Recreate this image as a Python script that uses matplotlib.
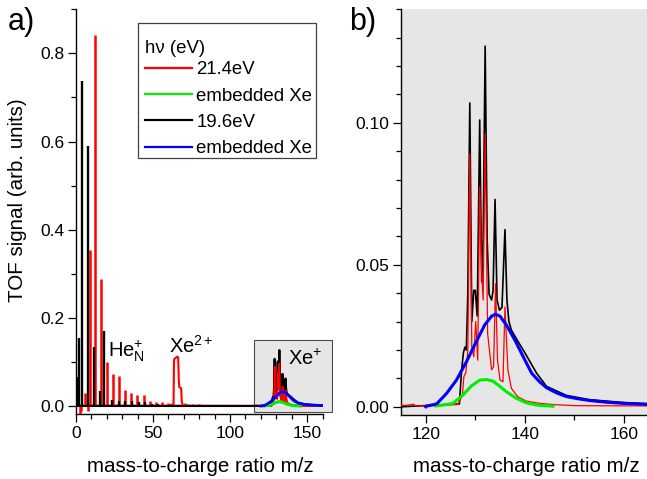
import matplotlib
matplotlib.use("Agg")
import matplotlib.pyplot as plt
from matplotlib.patches import Rectangle
from matplotlib.ticker import MultipleLocator, FormatStrFormatter

# He_N+ cluster region, peaks read off panel a)
black_peak_mz = [0.5, 1.7, 3.9, 7.7, 11.8, 15.6, 18.1, 23.4, 27.7, 32.0, 36.3, 40.6, 44.9, 49.0, 53.0]
black_peak_h = [0.065, 0.155, 0.737, 0.589, 0.134, 0.035, 0.171, 0.013, 0.012, 0.011, 0.011, 0.010, 0.009, 0.005, 0.004]

red_peak_mz = [5.6, 9.2, 12.0, 16.1, 20.0, 23.8, 27.9, 31.9, 35.8, 39.9, 43.9, 48.0, 52.0, 56.0, 60.0,
               70.5, 72.5, 76.0, 80.0, 84.5, 90.0]
red_peak_h = [0.030, 0.355, 0.842, 0.289, 0.100, 0.072, 0.069, 0.036, 0.029, 0.025, 0.026, 0.011, 0.010, 0.010, 0.007,
              0.006, 0.005, 0.004, 0.004, 0.003, 0.002]
red_dip_mz = [2.6, 3.4, 8.0]
red_dip_h = [-0.018, -0.012, -0.011]

# Xe2+ group (21.4 eV only)
xe2_mz = [61.5, 63.3, 63.6, 64.2, 65.0, 65.8, 66.3, 66.7, 67.0, 68.3, 68.6, 69.3]
xe2_sig = [0.002, 0.004, 0.105, 0.108, 0.110, 0.112, 0.110, 0.060, 0.043, 0.040, 0.010, 0.002]

# Xe+ region, read off panel b)
black_mz = [0, 115, 126.8, 127.2, 127.6, 127.9, 128.2, 128.5, 128.9, 129.3, 129.7, 130.0, 130.4, 130.9, 131.3,
            131.6, 132.0, 132.4, 132.8, 133.3, 133.6, 134.0, 134.4, 134.9, 135.4, 136.0, 136.4, 136.8,
            137.3, 138.3, 140.3, 142.4, 144.4, 148.4, 153.1, 159.9, 165]
black_sig = [0.0, 0.0, 0.001, 0.012, 0.019, 0.021, 0.020, 0.040, 0.107, 0.030, 0.041, 0.041, 0.032, 0.101, 0.044,
             0.059, 0.127, 0.059, 0.0396, 0.0376, 0.041, 0.073, 0.0376, 0.034, 0.035, 0.0624, 0.0376, 0.030,
             0.027, 0.024, 0.0182, 0.0118, 0.0072, 0.0040, 0.0025, 0.0015, 0.0011]

red_mz = [0, 116, 117.5, 118, 120, 126.5, 127.4, 127.7, 128.1, 128.5, 128.9, 129.3, 129.7, 130.1, 130.5,
          130.9, 131.3, 131.6, 132.0, 132.5, 133.3, 133.7, 134.1, 134.5, 135.0, 135.6, 136.0, 136.6,
          137.3, 138.6, 140.3, 143.0, 146.4, 150, 165]
red_sig = [0.001, 0.0005, 0.0009, 0.0003, 0.0003, 0.0008, 0.004, 0.0106, 0.0120, 0.020, 0.089, 0.021, 0.0176,
           0.0300, 0.0164, 0.0775, 0.0469, 0.0376, 0.0963, 0.0258, 0.0130, 0.0141, 0.0434, 0.0164, 0.0094,
           0.0088, 0.0352, 0.0129, 0.0065, 0.0035, 0.0020, 0.0012, 0.0007, 0.0004, 0.0003]

blue_mz = [120, 120.1, 122.2, 124.2, 126.2, 128.2, 130.2, 131.9, 133.3, 134.1, 135.0, 136.3, 138.0, 139.7,
           141.4, 143.0, 144.4, 146.4, 148.4, 150.8, 153.1, 156.5, 159.9, 165]
blue_sig = [0.0, 0.0002, 0.001, 0.0047, 0.0094, 0.0158, 0.0229, 0.0288, 0.0319, 0.0326, 0.0319, 0.0288,
            0.0235, 0.0176, 0.0118, 0.0088, 0.0067, 0.0049, 0.0036, 0.0028, 0.0022, 0.0016, 0.0012, 0.0008]

green_mz = [122.0, 123.5, 125.5, 127.5, 129.2, 130.9, 132.3, 133.6, 134.9, 136.3, 138.3, 140.3, 142.4, 145.7]
green_sig = [0.0003, 0.0006, 0.0012, 0.0041, 0.0073, 0.0094, 0.0096, 0.009, 0.0073, 0.0053, 0.003,
             0.0014, 0.0006, 0.0002]

# grey box marking the zoomed Xe+ region in a)
inset_x = [115.6, 165.9]
inset_y = [-0.0137, 0.150]

RED, GREEN, BLUE, GREY = "#ff0000", "#00ee00", "#0000ff", "#e6e6e6"
W, H = 647, 479

plt.rcParams["font.family"] = ["Liberation Sans", "DejaVu Sans"]
plt.rcParams["mathtext.fontset"] = "custom"
plt.rcParams["mathtext.rm"] = "Liberation Sans"
plt.rcParams["mathtext.it"] = "Liberation Sans:italic"

fig = plt.figure(figsize=(W / 100, H / 100), dpi=100)
ax1 = fig.add_axes([0.1175, 0.1351, 0.381, 0.8455])
ax2 = fig.add_axes([0.6198, 0.1336, 0.3802, 0.847])

# ---- panel a)
ax1.add_patch(Rectangle((inset_x[0], inset_y[0]), inset_x[1] - inset_x[0], inset_y[1] - inset_y[0],
                        facecolor=GREY, edgecolor="#4d4d4d", lw=0.8, clip_on=False, zorder=0))
ax1.vlines(red_peak_mz, 0, red_peak_h, color=RED, lw=1.8, zorder=2)
ax1.vlines(red_dip_mz, 0, red_dip_h, color=RED, lw=1.8, zorder=2)
ax1.plot(xe2_mz, xe2_sig, color=RED, lw=1.5, zorder=2)
l_red, = ax1.plot(red_mz, red_sig, color=RED, lw=1.5, zorder=2)
l_green, = ax1.plot(green_mz, green_sig, color=GREEN, lw=2.0, zorder=3)
ax1.vlines(black_peak_mz, 0, black_peak_h, color="black", lw=1.7, zorder=4)
l_black, = ax1.plot(black_mz, black_sig, color="black", lw=1.5, zorder=4)
ax1.plot(red_mz[5:], red_sig[5:], color=RED, lw=1.2, zorder=4.5)
ax1.plot(green_mz, green_sig, color=GREEN, lw=2.0, zorder=5)
l_blue, = ax1.plot(blue_mz, blue_sig, color=BLUE, lw=2.0, zorder=6)

ax1.set_xlim(0, 160)
ax1.set_ylim(-0.0188, 0.900)
ax1.xaxis.set_major_locator(MultipleLocator(50))
ax1.xaxis.set_minor_locator(MultipleLocator(10))
ax1.yaxis.set_major_locator(MultipleLocator(0.2))
ax1.yaxis.set_minor_locator(MultipleLocator(0.1))
ax1.yaxis.set_major_formatter(FormatStrFormatter("%.1f"))

ax1.text(20.5, 0.113, r"He$_\mathrm{N}^\mathrm{+}$", fontsize=14.5)
ax1.text(60.5, 0.12, r"Xe$^\mathrm{2+}$", fontsize=14.5)
ax1.text(137.5, 0.093, r"Xe$^\mathrm{+}$", fontsize=14.5)

# legend: entries without frame, frame drawn as a separate box behind them
leg = ax1.legend([l_red, l_green, l_black, l_blue],
                 ["21.4eV", "embedded Xe", "19.6eV", "embedded Xe"],
                 title="h\u03bd (eV)", loc="upper left",
                 bbox_to_anchor=(145 / W, 1 - 40 / H), bbox_transform=fig.transFigure,
                 fontsize=13.4, title_fontsize=13.4, alignment="left", frameon=False,
                 handlelength=2.5, handletextpad=0.25, labelspacing=0.5, borderpad=0,
                 borderaxespad=0)
leg._legend_box.sep = 3
leg.set_zorder(9)
for h in leg.legend_handles:
    h.set_linewidth(1.6)
ax1.add_patch(Rectangle((138.3 / W, 1 - 158.3 / H), (315.7 - 138.3) / W, (158.3 - 23.3) / H,
                        transform=fig.transFigure, facecolor="white", edgecolor="#404040",
                        lw=0.9, clip_on=False, zorder=8))

# ---- panel b)
ax2.set_facecolor(GREY)
ax2.plot(black_mz, black_sig, color="black", lw=1.2, zorder=2)
ax2.plot(red_mz, red_sig, color=RED, lw=0.9, zorder=3)
ax2.plot(green_mz, green_sig, color=GREEN, lw=2.2, zorder=4)
ax2.plot(blue_mz, blue_sig, color=BLUE, lw=2.2, zorder=5)

ax2.set_xlim(115, 164.7)
ax2.set_ylim(-0.0029, 0.140)
ax2.xaxis.set_major_locator(MultipleLocator(20))
ax2.xaxis.set_minor_locator(MultipleLocator(10))
ax2.yaxis.set_major_locator(MultipleLocator(0.05))
ax2.yaxis.set_minor_locator(MultipleLocator(0.01))
ax2.yaxis.set_major_formatter(FormatStrFormatter("%.2f"))

for ax in (ax1, ax2):
    ax.spines["top"].set_visible(False)
    ax.spines["right"].set_visible(False)
    ax.spines["left"].set_linewidth(1.0)
    ax.spines["bottom"].set_linewidth(1.0)
    ax.tick_params(which="major", direction="out", length=5.5, width=0.9, labelsize=12.5, pad=3)
    ax.tick_params(which="minor", direction="out", length=3.5, width=0.9)

fig.text(200 / W, 1 - 467 / H, "mass-to-charge ratio m/z", fontsize=14.8, ha="center", va="center")
fig.text(526 / W, 1 - 467 / H, "mass-to-charge ratio m/z", fontsize=14.8, ha="center", va="center")
fig.text(18 / W, 1 - 200 / H, "TOF signal (arb. units)", fontsize=14.8, rotation=90,
         ha="center", va="center")
fig.text(8 / W, 1 - 30 / H, "a)", fontsize=22, ha="left", va="baseline")
fig.text(349 / W, 1 - 30 / H, "b)", fontsize=22, ha="left", va="baseline")

fig.savefig("out.png", dpi=100)
